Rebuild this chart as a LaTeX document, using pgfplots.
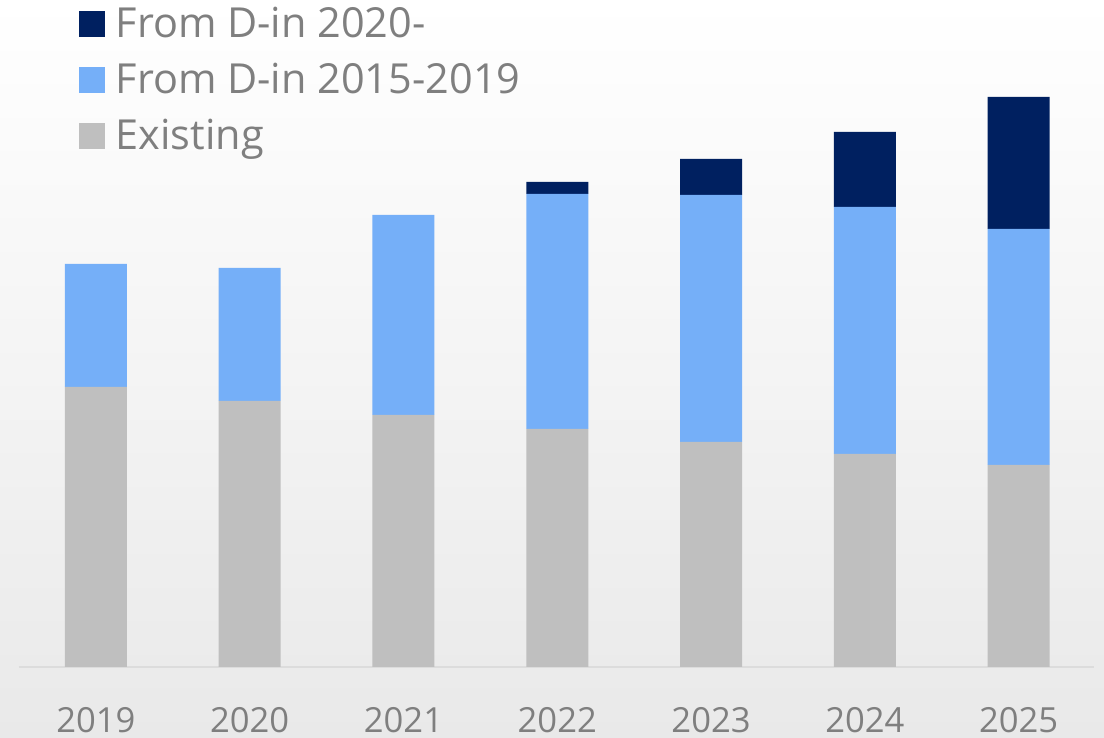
\documentclass[border=0pt]{standalone}
\usepackage{fontspec}
\setmainfont{Open Sans}
\usepackage{pgfplots}
\pgfplotsset{compat=1.18}

\definecolor{darkblue}{HTML}{002060}
\definecolor{lightblue}{HTML}{75AFF8}
\definecolor{barGray}{HTML}{BFBFBF}
\definecolor{txtGray}{HTML}{7F7F7F}
\definecolor{lineGray}{HTML}{DCDCDC}

\begin{document}
\begin{tikzpicture}
% canvas: 1104 x 738 px at 0.5pt per px
\useasboundingbox (0,0) rectangle (552pt,369pt);
\shade[top color=white, bottom color={rgb,255:red,233;green,233;blue,233}]
    (0,0) rectangle (552pt,369pt);
\clip (0,0) rectangle (552pt,369pt);
\begin{axis}[
    at={(9.5pt,35.5pt)}, anchor=south west,
    scale only axis,
    width=537.5pt, height=333.5pt,
    ybar stacked,
    bar width=31pt,
    xmin=-0.5, xmax=6.49,
    ymin=0, ymax=667,
    axis y line=none,
    axis x line*=bottom,
    x axis line style={draw=lineGray, line width=1pt, -},
    xtick=data,
    xticklabels={2019,2020,2021,2022,2023,2024,2025},
    major tick length=0pt,
    xticklabel style={font=\fontsize{17.3}{21}\selectfont, text=txtGray, anchor=base, yshift=-33pt},
    reverse legend,
    legend style={at={(0,1)}, anchor=north west, xshift=30pt, yshift=-1.3pt,
        draw=none, fill=none, inner sep=0pt,
        font=\fontsize{20.7}{24}\selectfont, text=txtGray,
        row sep=7.4pt, cells={anchor=west},
        /tikz/every odd column/.append style={column sep=3.2pt}},
    legend image code/.code={\fill[#1] (0pt,-6.5pt) rectangle (13pt,6.5pt);},
]
\addplot[fill=barGray, draw=none] coordinates {
    (0,280) (1,266) (2,252) (3,238) (4,225) (5,213) (6,202)};
\addlegendentry{Existing}
\addplot[fill=lightblue, draw=none] coordinates {
    (0,123) (1,133) (2,200) (3,235) (4,247) (5,247) (6,236)};
\addlegendentry{From D-in 2015-2019}
\addplot[fill=darkblue, draw=none] coordinates {
    (0,0) (1,0) (2,0) (3,12) (4,36) (5,75) (6,132)};
\addlegendentry{From D-in 2020-}
\end{axis}
\end{tikzpicture}
\end{document}
